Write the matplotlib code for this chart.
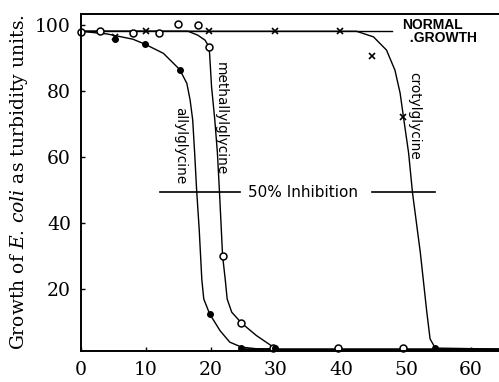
import matplotlib
matplotlib.use("Agg")
import matplotlib.pyplot as plt

plt.rcParams['mathtext.fontset'] = 'dejavuserif'

# ---- data (minutes vs turbidity units) ----
allyl_x = [0, 4, 8, 9.85, 12.7, 15.2, 16.3, 16.8, 17.2, 17.5, 17.8, 18.2, 18.6, 18.9,
           19.8, 21.4, 22.9, 24.7, 27, 30]
allyl_y = [98.2, 97.4, 95.8, 94.3, 91.5, 86.6, 82.4, 77.4, 71.3, 61.3, 50.2, 38.1, 23, 17,
           12.5, 7.4, 3.9, 2.4, 1.9, 1.8]

methallyl_x = [0, 16.5, 18.0, 19.1, 19.7, 19.8, 20.1, 20.6, 21.0, 21.3, 21.8, 22.2, 22.5,
               23.2, 24.7, 27, 29.6]
methallyl_y = [98.2, 98.2, 97, 95.5, 93.5, 91.4, 81.4, 71.3, 61.3, 50.2, 30, 23, 17,
               13, 9.7, 5.9, 2.4]

crotyl_x = [0, 42.4, 45, 47, 48.3, 49.1, 49.6, 50.4, 51, 52.2, 53.2, 53.7, 54.5, 64.5]
crotyl_y = [98.2, 98.2, 96.5, 92.5, 86.4, 79.4, 72.3, 61.3, 49.2, 31.1, 13, 4.9, 2.1, 1.8]

normal_x = [0, 47.8]
normal_y = [98.2, 98.2]

base_x = [24.5, 64.5]
base_y = [1.8, 1.8]

open_x = [0, 2.9, 8, 12, 15, 18, 19.7, 21.8, 24.7, 29.6, 39.5, 49.5]
open_y = [98, 98.2, 97.6, 97.6, 100.3, 100, 93.5, 30, 9.7, 2, 2, 2]

filled_x = [5.2, 9.85, 15.2, 19.8, 24.7, 29.8, 54.5]
filled_y = [96, 94.3, 86.6, 12.5, 2.2, 2.2, 2]

cross_x = [5.2, 10, 19.7, 29.8, 39.8, 44.7, 49.6]
cross_y = [96.5, 98.2, 98.2, 98.4, 98.2, 90.6, 72.3]

x_ticks = [0, 10, 20, 30, 40, 50, 60]
y_ticks = [20, 40, 60, 80, 100]
inhibition_level = 49.4

fig = plt.figure(figsize=(4.99, 3.82), dpi=100)
ax = fig.add_axes([0.162, 0.081, 0.838, 0.882])

lw = 1.0
ax.plot(allyl_x, allyl_y, color='black', lw=lw)
ax.plot(methallyl_x, methallyl_y, color='black', lw=lw)
ax.plot(crotyl_x, crotyl_y, color='black', lw=lw)
ax.plot(normal_x, normal_y, color='black', lw=lw)
ax.plot(base_x, base_y, color='black', lw=1.8)

ax.plot(open_x, open_y, 'o', ms=5, mfc='white', mec='black', mew=1.1, clip_on=False)
ax.plot(filled_x, filled_y, 'o', ms=4, color='black', clip_on=False)
ax.plot(cross_x, cross_y, 'x', ms=4, color='black', mew=1.2)

# 50% inhibition line with label
ax.plot([12.2, 24.5], [inhibition_level] * 2, color='black', lw=1.2)
ax.plot([44.8, 54.5], [inhibition_level] * 2, color='black', lw=1.2)
ax.text(34.2, inhibition_level, '50% Inhibition', ha='center', va='center',
        fontsize=11, family='DejaVu Sans')

ax.text(49.4, 98.2, 'NORMAL\n  .GROWTH', ha='left', va='center',
        fontsize=10, family='Liberation Sans', fontweight='bold', linespacing=0.95)

ax.text(15.2, 63.6, 'allylglycine', rotation=-90, ha='center', va='center',
        fontsize=9.8, family='DejaVu Sans')
ax.text(21.5, 71.6, 'methallylglycine', rotation=-90, ha='center', va='center',
        fontsize=9.8, family='DejaVu Sans')
ax.text(51.2, 72.4, 'crotylglycine', rotation=-90, ha='center', va='center',
        fontsize=9.8, family='DejaVu Sans')

ax.set_xlim(0, 64.3)
ax.set_ylim(1.2, 103.4)
ax.set_xticks(x_ticks)
ax.set_yticks(y_ticks)
ax.tick_params(direction='in', length=3, width=1, pad=7, labelsize=13.5)
for lab in ax.get_xticklabels() + ax.get_yticklabels():
    lab.set_family('DejaVu Serif')

ax.spines['right'].set_visible(False)
for s in ['left', 'top', 'bottom']:
    ax.spines[s].set_linewidth(1.4)

ax.set_ylabel(r'Growth of $\mathit{E.\,coli}$ as turbidity units.',
              fontsize=13.5, family='DejaVu Serif', labelpad=4)

fig.savefig('out.png', dpi=100)
